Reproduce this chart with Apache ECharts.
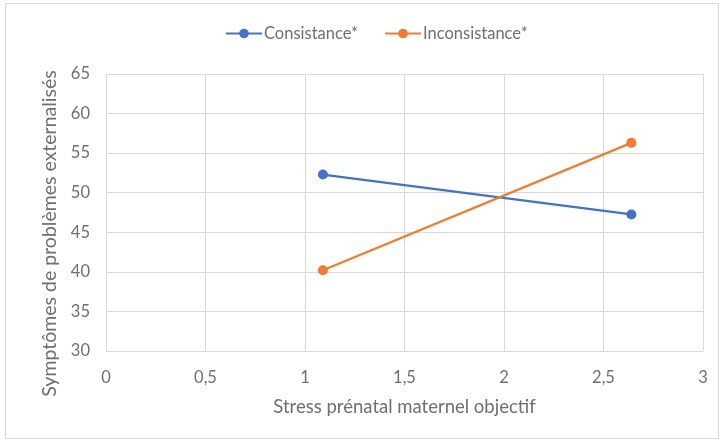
<!DOCTYPE html>
<html><head><meta charset="utf-8">
<script src="https://cdn.jsdelivr.net/npm/echarts@6/dist/echarts.min.js"></script>
<style>html,body{margin:0;padding:0;background:#fff}#c{width:725px;height:444px}
#frame{position:absolute;left:5px;top:3px;width:714px;height:436px;border:1px solid #d9d9d9;box-sizing:border-box;pointer-events:none}</style>
</head><body><div id="c"></div><div id="frame"></div>
<script>
const seriesNames = ['Consistance*', 'Inconsistance*'];
const xValues = [1.09, 2.64];
const consistance = [52.3, 47.25];
const inconsistance = [40.2, 56.3];
const colors = ['#4472C4', '#ED7D31'];
const xTitle = 'Stress prénatal maternel objectif';
const yTitle = 'Symptômes de problèmes externalisés';

const font = 'Lato, "Open Sans", sans-serif';
const txt = '#6f6f6f';
const chart = echarts.init(document.getElementById('c'));
const toPairs = ys => xValues.map((x, i) => [x, ys[i]]);
chart.setOption({
  animation: false,
  color: colors,
  textStyle: {fontFamily: font},
  legend: {
    top: 20, left: 220, itemWidth: 36, itemHeight: 12, itemGap: 26,
    textStyle: {color: txt, fontSize: 16.5, fontFamily: font, padding: [0, 0, 0, -3]},
    data: seriesNames
  },
  grid: {left: 106, right: 22, top: 74, bottom: 93, containLabel: false},
  xAxis: {
    type: 'value', min: 0, max: 3, interval: 0.5,
    name: xTitle, nameLocation: 'middle', nameGap: 47,
    nameTextStyle: {color: txt, fontSize: 18.5, fontFamily: font},
    axisLine: {show: true, lineStyle: {color: '#d9d9d9', width: 1}},
    axisTick: {show: false},
    axisLabel: {color: txt, fontSize: 16.5, margin: 18, fontFamily: font,
      formatter: v => String(v).replace('.', ',')},
    splitLine: {show: true, lineStyle: {color: '#d9d9d9', width: 1}}
  },
  yAxis: {
    type: 'value', min: 30, max: 65, interval: 5,
    name: yTitle, nameLocation: 'middle', nameGap: 46, nameRotate: 90,
    nameTextStyle: {color: txt, fontSize: 19.5, fontFamily: font, padding: [0, 42, 0, 0]},
    axisLine: {show: false}, axisTick: {show: false},
    axisLabel: {color: txt, fontSize: 16.5, margin: 16, fontFamily: font},
    splitLine: {show: true, lineStyle: {color: '#d9d9d9', width: 1}}
  },
  series: [
    {name: seriesNames[0], type: 'line', data: toPairs(consistance), symbol: 'circle', symbolSize: 10,
     lineStyle: {width: 2.25}, itemStyle: {color: colors[0]}},
    {name: seriesNames[1], type: 'line', data: toPairs(inconsistance), symbol: 'circle', symbolSize: 10,
     lineStyle: {width: 2.25}, itemStyle: {color: colors[1]}}
  ]
});
</script></body></html>
